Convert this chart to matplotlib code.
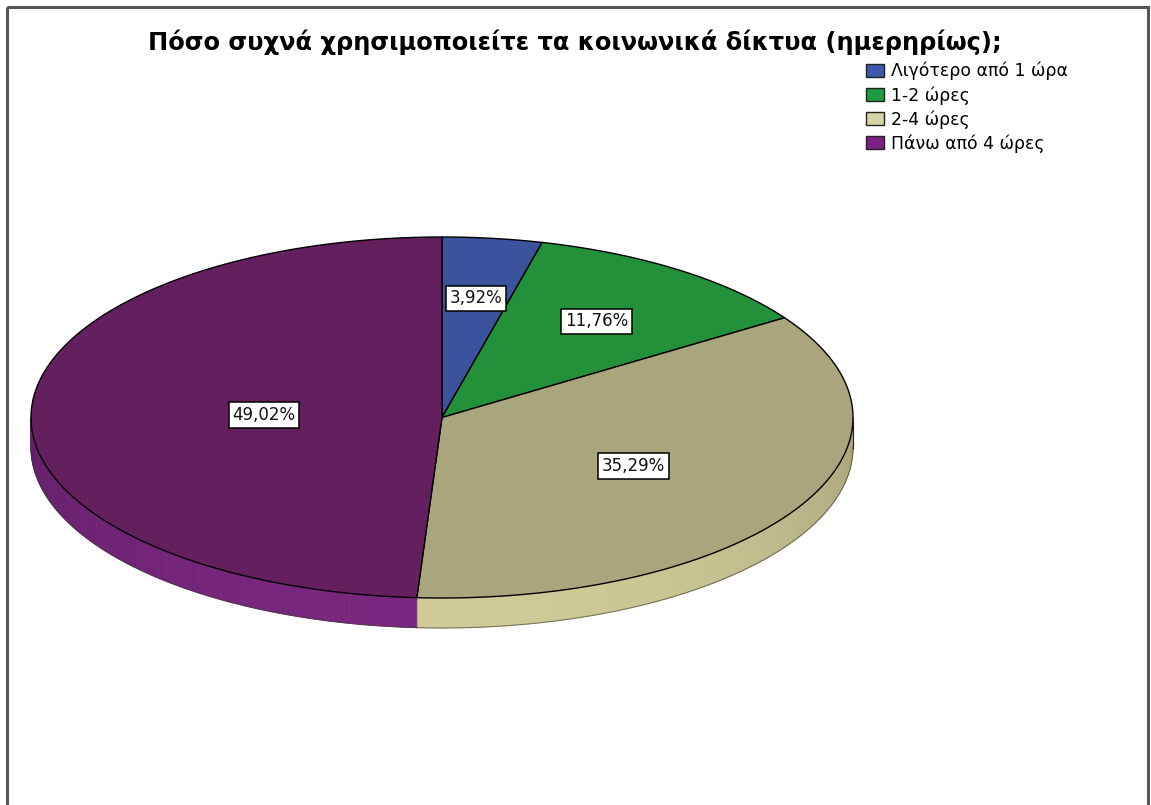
import numpy as np
import matplotlib
matplotlib.use('Agg')
import matplotlib.pyplot as plt
from matplotlib.patches import Polygon, Rectangle, Patch
from matplotlib.colors import to_rgb

plt.rcParams['font.family'] = ['DejaVu Sans']

title = 'Πόσο συχνά χρησιμοποιείτε τα κοινωνικά δίκτυα (ημερηρίως);'
categories = ['Λιγότερο από 1 ώρα', '1-2 ώρες', '2-4 ώρες', 'Πάνω από 4 ώρες']
percent = [3.92, 11.76, 35.29, 49.02]
labels = ['3,92%', '11,76%', '35,29%', '49,02%']
top_colors = ['#3a539c', '#23913a', '#a9a57c', '#641f5f']
side_colors = ['#4a66b8', '#2fae4a', '#cfcb98', '#7a2680']
legend_colors = ['#3e58ac', '#1f9c3f', '#d6d3a4', '#7d2083']

W, H = 1151, 805
fig = plt.figure(figsize=(W / 100, H / 100), dpi=100)
ax = fig.add_axes([0, 0, 1, 1])
ax.set_xlim(0, W); ax.set_ylim(H, 0); ax.axis('off')

# ellipse of the pie top face (pixel space) and thickness of the disc
cx, cy, a, b, depth = 442, 417.5, 411, 180.5, 30

frac = np.array(percent) / np.sum(percent)
# angles in degrees, start at 12 o'clock and run clockwise
edges = 90 - 360 * np.concatenate([[0], np.cumsum(frac)])

def pt(t, dy=0.0):
    r = np.radians(t)
    return cx + a * np.cos(r), cy - b * np.sin(r) + dy

# side wall: only the front half (180..360 deg) is visible
for i in range(len(frac)):
    t0, t1 = edges[i + 1], edges[i]
    lo, hi = max(t0, -180), min(t1, 0)
    if lo >= hi:
        continue
    ts = np.linspace(lo, hi, 120)
    base = np.array(to_rgb(side_colors[i]))
    for u, v in zip(ts[:-1], ts[1:]):
        m = np.radians((u + v) / 2)
        shade = 0.80 + 0.20 * (-np.sin(m))
        c = np.clip(base * shade, 0, 1)
        x0, y0 = pt(u); x1, y1 = pt(v)
        quad = [(x0, y0), (x1, y1), (x1, y1 + depth), (x0, y0 + depth)]
        ax.add_patch(Polygon(quad, closed=True, facecolor=c, edgecolor=c, lw=0.6))
    xs, ys = pt(ts, depth)
    ax.plot(xs, ys, color='#3a3a2a', lw=0.8, alpha=0.6)

# right-hand vertical edge of the disc
xr, yr = pt(0)
ax.plot([xr, xr], [yr, yr + depth], color='#222222', lw=0.8)

# top faces
for i in range(len(frac)):
    t0, t1 = edges[i + 1], edges[i]
    ts = np.linspace(t1, t0, 200)
    xs, ys = pt(ts)
    verts = [(cx, cy)] + list(zip(xs, ys))
    ax.add_patch(Polygon(verts, closed=True, facecolor=top_colors[i],
                         edgecolor='black', lw=1.0, joinstyle='round'))

# labels at the centroid of each slice
for i in range(len(frac)):
    half = np.radians(360 * frac[i] / 2)
    rc = 2 * np.sin(half) / (3 * half)
    mid = (edges[i] + edges[i + 1]) / 2
    r = np.radians(mid)
    x = cx + rc * a * np.cos(r)
    y = cy - rc * b * np.sin(r)
    ax.text(x, y, labels[i], ha='center', va='center', fontsize=12,
            color='#111111',
            bbox=dict(boxstyle='square,pad=0.22', fc='white', ec='black', lw=1.1))

ax.text(575, 50, title, ha='center', va='baseline', fontsize=17.4,
        fontweight='bold', color='black')

handles = [Patch(facecolor=c, edgecolor='#222222', lw=1.0) for c in legend_colors]
ax.legend(handles, categories, loc='upper left', bbox_to_anchor=(866 / W, 1 - 62 / H),
          bbox_transform=fig.transFigure, frameon=False, fontsize=12.4,
          handlelength=1.05, handleheight=0.8, handletextpad=0.4,
          labelspacing=0.32, borderpad=0.0, borderaxespad=0)

ax.add_patch(Rectangle((7, 7), 1141, 820, fill=False, edgecolor='#555555', lw=2.2,
                       clip_on=False))

fig.savefig('out.png', dpi=100)
